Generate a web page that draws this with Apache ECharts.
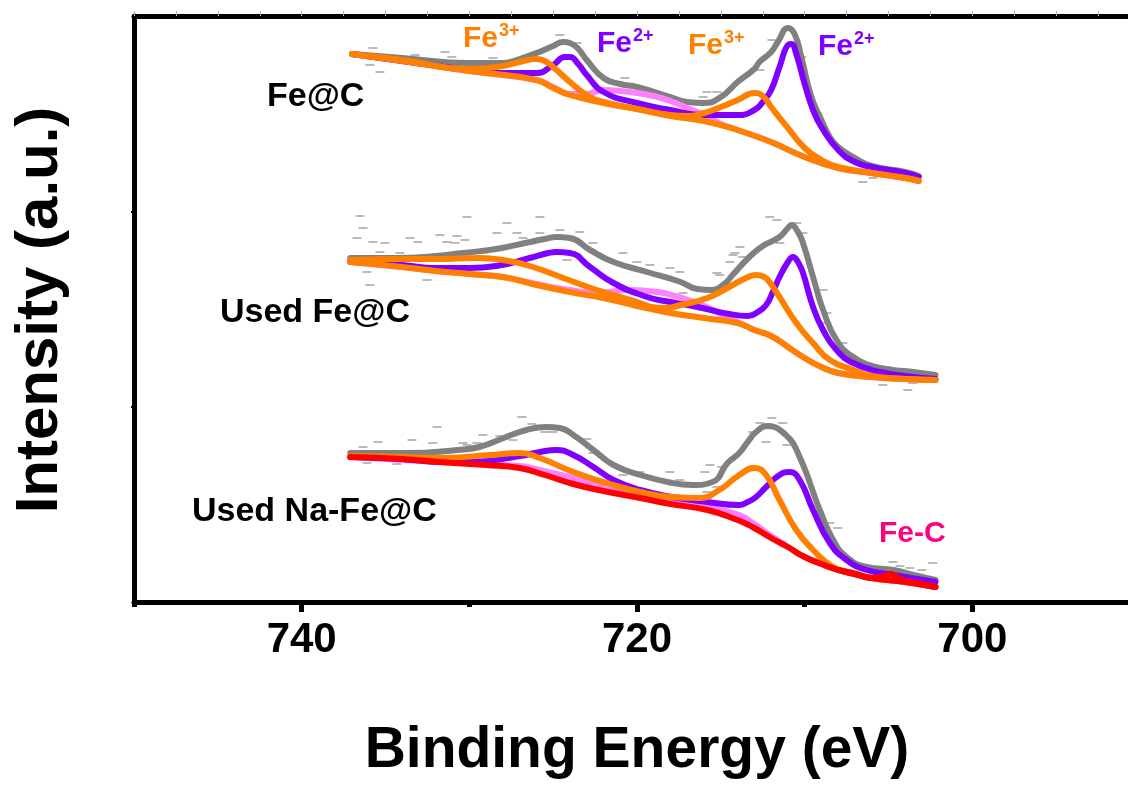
<!DOCTYPE html>
<html><head><meta charset="utf-8">
<script src="https://cdn.jsdelivr.net/npm/echarts@6/dist/echarts.min.js"></script>
<style>html,body{margin:0;padding:0;background:#fff}#c{width:1128px;height:785px}</style>
</head><body><div id="c"></div>
<script>
// ---- Binding energy ticks ----
const majorTicks = [700, 720, 740];
const minorTicks = [710, 730, 750];
const yTicks = [195.3, 390.7];

// ---- Panel 1 : Fe@C  [eV, intensity] ----
const p1Raw = [[735.75,554],[735.93,537],[735.33,530],[733.24,547],[731.45,550],[731.04,545],[729.79,541],[728.95,541],[728.59,544],[724.6,567],[723.58,559],[720.72,524],[715.83,510],[715.24,510],[716.07,505],[711.96,562],[712.67,532],[710.17,545],[709.27,489],[708.92,475],[706.53,420],[705.93,424],[703.73,427]];
const p1Env = [[737,548],[734,544],[730,539],[728,539],[727,543],[726,549],[725,556],[724.4,560],[724,559],[723.5,553],[723,542],[722,524],[721,518],[720,515],[718,505],[717,500],[716,499],[715,505],[714,520],[713,533],[712.7,540],[712,550],[711.6,560],[711,574],[710.6,568],[710.2,545],[709.6,505],[709,482],[708.5,465],[708,455],[707,444],[706,436],[704,430],[703.2,426]];
const p1Fe2 = [[737,548],[734,541],[730,532],[728,529],[726,529],[725,537],[724.3,545],[724,545],[723.5,538],[723,527],[722,510],[720,499],[718,492],[716,487],[714,487],[713,492],[712.5,500],[712,512],[711.5,535],[711,557],[710.8,558],[710.5,548],[710,518],[709.5,492],[709,475],[708,452],[707,440],[706,435],[704,429],[703.2,425]];
const p1Fe3 = [[737,548],[734,542],[730,533],[728,536],[727,540],[726,543],[725.5,541],[725,535],[724,520],[723,507],[722,500],[720,493],[718,487],[717,486],[716,489],[715,495],[714,502],[713,509],[712.5,506],[712,495],[711,474],[710,454],[709,442],[708,435],[706,429],[704,424],[703.2,421]];
const p1Sat = [[737,548],[734,541],[730,531],[726,522],[725,515],[724,508],[723,508],[722,512],[721,511],[720,509],[719,506],[718,501],[717,494],[716,487],[715,478],[714,472],[712,460],[710,445],[708,434],[706,429],[704,424],[703.2,421]];
const p1Bg = [[737,548],[734,541],[730,531],[726,522],[725,514],[724,507],[722,499],[720,493],[718,486],[716,481],[714,472],[712,460],[710,445],[708,434],[706,429],[704,424],[703.2,421]];

// ---- Panel 2 : Used Fe@C ----
const p2Raw = [[736.52,386],[736.34,374],[736.7,364],[735.75,360],[735.03,359],[735.33,350],[734.14,349],[733.54,364],[733.07,360],[732.53,322],[735.93,317],[736.11,330],[731.75,367],[731.34,360],[730.74,366],[730.14,385],[730.26,362],[730.86,359],[727.76,379],[728.35,369],[727.16,369],[725.79,385],[726.8,364],[725.79,369],[724.6,372],[723.41,370],[722.63,359],[724.18,342],[722.39,349],[720.84,349],[720.01,340],[719.23,337],[718.04,334],[717.44,330],[719.23,312],[717.26,309],[715.83,305],[715.24,329],[714.16,349],[713.69,345],[712.08,385],[711.66,382],[710.47,379],[713.86,355],[714.28,347],[714.46,340],[715.06,327],[711.48,359],[710.11,369],[708.91,312],[708.68,289],[708.68,279],[707.72,259],[706.29,239],[705.1,235],[705.34,217],[703.55,219],[703.85,212],[702.71,225]];
const p2Env = [[737.1,344],[734.3,344],[732,346],[730.4,349],[728.4,353],[726.4,360],[725.5,363],[724.8,365],[724,364],[722.8,352],[721.4,340],[719.4,330],[717.4,320],[716.4,313],[715.5,312],[714.8,318],[714.3,327],[713.3,345],[712.5,356],[711.5,365],[711,374],[710.8,377],[710.4,370],[710.1,359],[709.5,325],[708.9,292],[708.1,262],[707.1,245],[705.5,234],[703.5,230],[702.2,227]];
const p2Fe2 = [[737.1,340],[734,337],[732,334],[730,334],[728.4,336],[726.4,344],[725.3,349],[724.8,350],[724,349],[722.8,335],[721.4,319],[719.4,305],[718,300],[716.4,295],[714.5,288],[713.4,286],[712.8,290],[712.3,297],[711.9,310],[711.5,325],[711,340],[710.7,345],[710.4,340],[710.1,329],[709.5,295],[708.9,272],[708.1,252],[707.1,239],[705.5,230],[704,226],[702.2,223]];
const p2Fe3 = [[737.1,342],[734,343],[732,343],[729.4,344],[728,342],[726.4,336],[724.4,324],[722.4,312],[720.4,302],[718.4,294],[717.4,297],[715.8,304],[714.5,315],[713.5,324],[712.9,327],[712.4,325],[712.1,320],[711.5,305],[710.5,279],[709.5,259],[708.5,242],[707.1,232],[706,226],[704,223],[702.2,222]];
const p2Sat = [[737.1,340],[734,335],[732,331],[730,328],[728,325],[726,318],[724,312],[722.4,309],[720.4,312],[719.4,311],[718.4,309],[716.4,299],[715,288],[714,280],[713,272],[712,266],[711,255],[710,244],[709,235],[708,229],[706,225],[704,223],[702.2,222]];
const p2Bg = [[737.1,340],[734,335],[732,331],[730,328],[728,325],[726,317],[724,310],[722,304],[720,296],[718,289],[716,284],[714,279],[713,272],[712,266],[711,255],[710,244],[709,235],[708,229],[706,225],[704,223],[702.2,222]];

// ---- Panel 3 : Used Na-Fe@C ----
const p3Raw = [[731.93,175],[735.45,160],[733.42,162],[736.34,155],[734.91,150],[732.17,159],[730.14,157],[729.55,159],[736.11,139],[734.32,138],[732.95,150],[726.86,185],[726.27,178],[730.38,159],[729.19,167],[728.18,166],[727.4,162],[725.49,170],[725.01,170],[722.99,163],[722.63,149],[721.44,137],[720.84,127],[719.83,130],[718.04,130],[717.44,122],[715.65,137],[714.94,135],[715.95,130],[715.24,115],[715.83,110],[712.67,179],[711.96,184],[711.3,179],[713.09,170],[712.31,160],[711.06,157],[708.5,79],[708.02,74],[704.74,40],[704.32,36],[703.73,34],[703.01,32],[702.36,39]];
const p3Env = [[737.1,149],[733.7,149],[730.7,152],[729.4,155],[727.8,165],[726.6,172],[725.4,175],[724.6,174],[723.8,167],[722.6,152],[721.4,137],[719.8,127],[717.9,119],[716.7,117],[715.5,120],[714.6,139],[713.9,149],[713.4,160],[712.9,170],[712.2,176],[711.8,175],[711.4,171],[711,165],[710.7,159],[710.3,145],[709.9,129],[709.5,110],[709.1,92],[708.3,62],[707.5,45],[706.3,35],[704.7,32],[703.5,27],[702.2,22]];
const p3Fe2 = [[737.1,145],[734,143],[731.8,140],[729.8,140],[727,146],[725.8,150],[724.8,152],[723.8,147],[722.6,135],[721.4,122],[719.8,112],[717.9,105],[715.8,100],[713.9,97],[713.4,100],[712.9,105],[712.3,115],[711.5,127],[710.9,130],[710.3,122],[709.5,92],[708.5,59],[707.5,42],[706.3,32],[704.7,27],[702.2,20]];
const p3Fe3 = [[737.1,146],[734,145],[731.8,144],[728.8,147],[727,149],[725.8,144],[723.8,130],[721.8,119],[719.8,110],[717.9,105],[716.3,104],[715.1,112],[713.9,127],[713,134],[712.3,127],[711.5,102],[710.5,72],[709.5,52],[708.3,35],[707.1,29],[706,24],[704,20],[702.2,15]];
const p3Sat = [[737.1,145],[731.8,140],[727,136],[725.8,132],[723.8,124],[721.8,114],[719.8,109],[717.9,102],[715.8,95],[713.9,87],[713,78],[712,66],[711,55],[710,45],[708,32],[706,24],[704,20],[702.2,15]];
const p3FeC = [[708,32],[707,28],[706,24],[705.4,25],[704.9,28],[704.4,24],[704,21],[703,18],[702.2,15]];
const p3Bg = [[737.1,145],[734,143],[731.8,140],[729,137],[727,134],[725.5,127],[723.8,118],[722,111],[719.8,104],[718,98],[715.8,92],[714,82],[713,74],[712,64],[711,55],[710,45],[709,38],[708,32],[707,28],[706,24],[704,20],[702.2,15]];

const C = {grey:'#808080', fe2:'#8000ff', fe3:'#ff8000', sat:'#ff80ff', red:'#ff0000', feC:'#ff0080'};
const FONT = "'Liberation Sans', Arial, sans-serif";

function line(data, color, w) {
  return {type:'line', data, xAxisIndex:0, yAxisIndex:0, showSymbol:false, symbol:'none',
    smooth:0.5, lineStyle:{color, width:w||6, cap:'round', join:'round'}, silent:true, animation:false};
}
function raw(data) {
  return {type:'scatter', data, xAxisIndex:0, yAxisIndex:0, symbol:'rect', symbolSize:[9,1.5],
    itemStyle:{color:'#8c8c8c'}, silent:true, animation:false};
}

const series = [
  raw(p1Raw), raw(p2Raw), raw(p3Raw),
  line(p1Env, C.grey), line(p1Sat, C.sat), line(p1Fe2, C.fe2), line(p1Fe3, C.fe3), line(p1Bg, C.fe3),
  line(p2Env, C.grey), line(p2Sat, C.sat), line(p2Fe2, C.fe2), line(p2Fe3, C.fe3), line(p2Bg, C.fe3),
  line(p3Env, C.grey), line(p3Sat, C.sat), line(p3Fe2, C.fe2), line(p3Fe3, C.fe3), line(p3Bg, C.red), line(p3FeC, C.red)
];

const gridBox = {left:134, right:-12, top:16, bottom:183, containLabel:false, outerBoundsMode:'none'};

function label(text, x, y, color, size) {
  return {type:'text', x, y, silent:true, style:{text, fill:color, font:'bold '+size+'px '+FONT, align:'left', verticalAlign:'middle'}};
}
function ion(base, sup, x, y, color) {
  return [label(base, x, y, color, 30), label(sup, x+36, y-8, color, 18)];
}

const chart = echarts.init(document.getElementById('c'), null, {renderer:'canvas'});
chart.setOption({
  backgroundColor:'#fff',
  animation:false,
  grid:[Object.assign({}, gridBox), Object.assign({}, gridBox)],
  xAxis:[
    {type:'value', gridIndex:0, position:'bottom', min:690, max:750, inverse:true,
      axisLine:{lineStyle:{color:'#000', width:5}},
      axisTick:{customValues:majorTicks, length:10, lineStyle:{color:'#000', width:5}},
      axisLabel:{customValues:majorTicks, color:'#000', fontSize:42, fontWeight:'bold', fontFamily:FONT, margin:17},
      splitLine:{show:false},
      name:'Binding Energy (eV)', nameLocation:'middle', nameGap:121,
      nameTextStyle:{color:'#000', fontSize:57, fontWeight:'bold', fontFamily:FONT}},
    {type:'value', gridIndex:0, position:'top', min:690, max:750, inverse:true, interval:2.5,
      axisLine:{lineStyle:{color:'#000', width:5}},
      axisTick:{length:5, lineStyle:{color:'#b0b0b0', width:1}},
      axisLabel:{show:false}, splitLine:{show:false}},
    {type:'value', gridIndex:1, position:'bottom', min:690, max:750, inverse:true,
      axisLine:{show:false},
      axisTick:{customValues:minorTicks, length:5, lineStyle:{color:'#000', width:5}},
      axisLabel:{show:false}, splitLine:{show:false}}
  ],
  yAxis:[
    {type:'value', gridIndex:0, min:0, max:586,
      axisLine:{show:true, lineStyle:{color:'#000', width:5}},
      axisTick:{show:true, customValues:yTicks, length:3, lineStyle:{color:'#000', width:2}},
      axisLabel:{show:false}, splitLine:{show:false}},
    {type:'value', gridIndex:1, min:0, max:586, show:false}
  ],
  series,
  graphic:[
    {type:'text', x:40, y:310, rotation:Math.PI/2, silent:true,
      style:{text:'Intensity (a.u.)', fill:'#000', font:'bold 60px '+FONT, align:'center', verticalAlign:'middle'}},
    label('Fe@C', 267, 97, '#000', 34),
    label('Used Fe@C', 220, 313, '#000', 34),
    label('Used Na-Fe@C', 192, 512, '#000', 34),
    ...ion('Fe', '3+', 463, 39, C.fe3),
    ...ion('Fe', '2+', 597, 44, C.fe2),
    ...ion('Fe', '3+', 688, 46, C.fe3),
    ...ion('Fe', '2+', 818, 47, C.fe2),
    label('Fe-C', 879, 534, C.feC, 30)
  ]
});
</script></body></html>
